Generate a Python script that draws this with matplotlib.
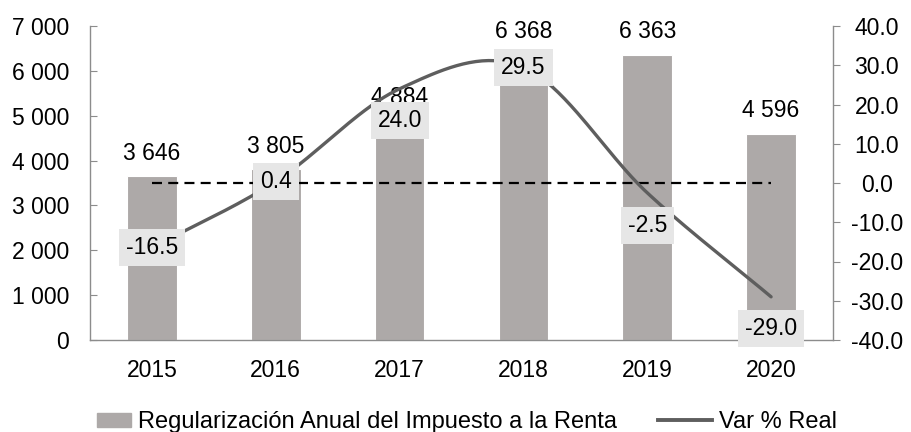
import numpy as np
import matplotlib
matplotlib.use("Agg")
import matplotlib.pyplot as plt
from matplotlib import font_manager
from matplotlib.patches import Patch, Rectangle
from matplotlib.lines import Line2D
from matplotlib.legend_handler import HandlerPatch

years = ["2015", "2016", "2017", "2018", "2019", "2020"]
regularizacion = [3646, 3805, 4884, 6368, 6363, 4596]
var_real = [-16.5, 0.4, 24.0, 29.5, -2.5, -29.0]
bar_name = "Regularización Anual del Impuesto a la Renta"
line_name = "Var % Real"

avail = {f.name for f in font_manager.fontManager.ttflist}
base_font = "Liberation Sans" if "Liberation Sans" in avail else "DejaVu Sans"
plt.rcParams["font.family"] = [base_font, "DejaVu Sans"]

BAR_C = "#ADA9A8"
LINE_C = "#5E5E5E"
SPINE_C = "#8C8C8C"
BOX_C = "#E6E6E6"
FS = 16.5

fig = plt.figure(figsize=(9.11, 4.32), dpi=100)
ax = fig.add_axes([90/911, 92/432, (833-90)/911, (340-26)/432])
ax2 = ax.twinx()

x = np.arange(len(years))
ax.bar(x, regularizacion, width=0.4, color=BAR_C, edgecolor="white", linewidth=0.8, zorder=2)
ax.set_xlim(-0.5, len(years) - 0.5)
ax.set_ylim(0, 7000)
ax.set_yticks(np.arange(0, 7001, 1000))
ax.set_yticklabels([f"{v:,}".replace(",", " ") for v in range(0, 7001, 1000)])
ax.set_xticks(x)
ax.set_xticklabels(years)
ax.tick_params(axis="x", length=0, pad=14, labelsize=FS)
ax.tick_params(axis="y", direction="in", length=5, color=SPINE_C, pad=15, labelsize=FS)
for s in ["top", "right"]:
    ax.spines[s].set_visible(False)
for s in ["left", "bottom"]:
    ax.spines[s].set_color(SPINE_C)
    ax.spines[s].set_linewidth(1.0)

for xi, v in zip(x, regularizacion):
    ax.annotate(f"{v:,}".replace(",", " "), (xi, v), xytext=(0, 12), textcoords="offset points",
                ha="center", va="baseline", fontsize=FS, zorder=3)

# secondary axis
ax2.set_ylim(-40, 40)
ax2.set_yticks(np.arange(-40, 41, 10))
ax2.set_yticklabels([f"{v:.1f}" for v in np.arange(-40, 41, 10)])
ax2.tick_params(axis="y", direction="out", length=5, color=SPINE_C, pad=26.5, labelsize=FS)
for lab in ax2.get_yticklabels():
    lab.set_horizontalalignment("center")
for s in ["top", "left", "bottom"]:
    ax2.spines[s].set_visible(False)
ax2.spines["right"].set_color(SPINE_C)
ax2.spines["right"].set_linewidth(1.0)

# dashed zero line
ax2.plot([x[0], x[-1]], [0, 0], ls=(0, (4.5, 2.8)), color="black", lw=1.6, zorder=3)

# smoothed line (Catmull-Rom through the data points)
P = np.column_stack([np.array(x, dtype=float), np.array(var_real, dtype=float)])
P_ext = np.vstack([P[0] - (P[1] - P[0]), P, P[-1] + (P[-1] - P[-2])])
cx, cy = [], []
t = np.linspace(0, 1, 40)
for i in range(1, len(P_ext) - 2):
    p0, p1, p2, p3 = P_ext[i-1], P_ext[i], P_ext[i+1], P_ext[i+2]
    for tt in t:
        pt = 0.5 * ((2*p1) + (-p0 + p2)*tt + (2*p0 - 5*p1 + 4*p2 - p3)*tt**2
                    + (-p0 + 3*p1 - 3*p2 + p3)*tt**3)
        cx.append(pt[0]); cy.append(pt[1])
ax2.plot(cx, cy, color=LINE_C, lw=2.4, solid_capstyle="round", zorder=4)

offsets = [0, 0, -23, 0, -23.5, -23]
for xi, v, off in zip(x, var_real, offsets):
    ax2.annotate(f"{v:.1f}", (xi, v), xytext=(0, off), textcoords="offset points",
                 ha="center", va="center", fontsize=FS, zorder=6,
                 bbox=dict(boxstyle="square,pad=0.3", fc=BOX_C, ec="none"))

ax.set_zorder(1)
ax2.set_zorder(2)
ax2.patch.set_visible(False)


def small_rect(legend, orig_handle, xdescent, ydescent, width, height, fontsize):
    w = width * 0.64
    h = height * 0.85
    return Rectangle((-xdescent + width - w, -ydescent + (height - h) / 2), w, h)


handles = [Patch(color=BAR_C), Line2D([0], [0], color=LINE_C, lw=2.8)]
fig.legend(handles, [bar_name, line_name], loc="center", bbox_to_anchor=(457/911, 1 - 422/432),
           ncol=2, frameon=False, prop={"size": 17},
           handlelength=2.3, handletextpad=0.27, columnspacing=1.75,
           handler_map={Patch: HandlerPatch(patch_func=small_rect)})

fig.savefig("out.png", dpi=100)
